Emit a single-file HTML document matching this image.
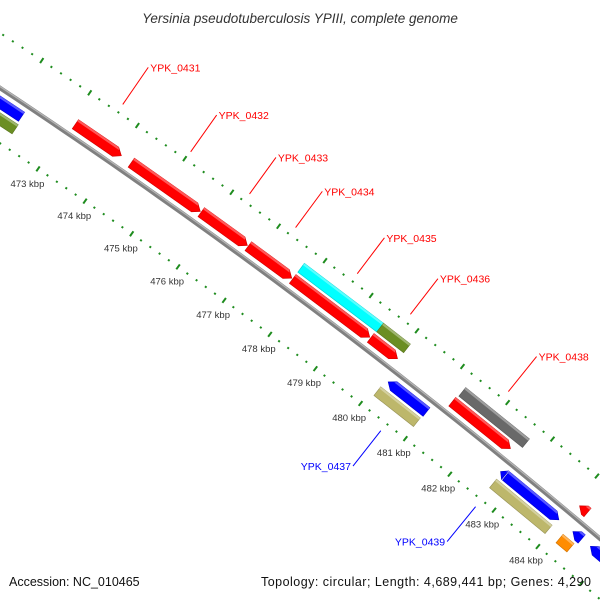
<!DOCTYPE html>
<html><head><meta charset="utf-8"><style>
html,body{margin:0;padding:0;background:#fff;overflow:hidden;}
svg{display:block;}
text{font-family:"Liberation Sans","DejaVu Sans",sans-serif;}
</style></head><body>
<svg id="map" width="600" height="600" viewBox="0 0 600 600" xmlns="http://www.w3.org/2000/svg">
<rect x="0" y="0" width="600" height="600" fill="#fff"/>
<g id="ticks"></g>
<g id="backbone"></g>
<g id="features"></g>
<g id="labels"></g>
<text x="300" y="23" text-anchor="middle" font-size="13.5" font-style="italic" fill="#333">Yersinia pseudotuberculosis YPIII, complete genome</text>
<text x="9" y="586" font-size="12.5" fill="#111">Accession: NC_010465</text>
<text x="591" y="586" text-anchor="end" font-size="12.5" fill="#111" textLength="330">Topology: circular; Length: 4,689,441 bp; Genes: 4,290</text>
</svg>
<script>
// data arrays (kbp)
const featStart = [471.0, 471.0, 473.1, 474.28, 475.77, 476.78, 477.74, 479.44, 477.74, 479.46, 480.15, 480.1, 481.27, 481.24, 482.66, 482.78, 482.69, 484.1, 484.3, 484.2, 484.7];
const featEnd   = [472.25, 472.28, 474.07, 475.75, 476.76, 477.72, 479.42, 480.03, 479.46, 480.05, 481.0, 480.98, 482.69, 482.54, 482.76, 483.98, 483.95, 484.28, 484.5, 484.45, 485.6];
const featSlot  = [-1, -2, 1, 1, 1, 1, 1, 1, 2, 2, -1, -2, 2, 1, -1, -1, -2, 1, -1, -2, -1];
const featDir   = [-1, 0, 1, 1, 1, 1, 1, 1, 0, 0, -1, 0, 0, 1, -1, 1, 0, -1, -1, 0, -1];
const featColor = ["#0000ff","#6b8e23","#ff0000","#ff0000","#ff0000","#ff0000","#ff0000","#ff0000","#00ffff","#6b8e23","#0000ff","#bdb76b","#696969","#ff0000","#0000ff","#0000ff","#bdb76b","#ff0000","#0000ff","#ff8c00","#0000ff"];
const labelNames = ["YPK_0431","YPK_0432","YPK_0433","YPK_0434","YPK_0435","YPK_0436","YPK_0437","YPK_0438","YPK_0439"];
const labelFeat  = [2, 3, 4, 5, 6, 7, 10, 13, 14];
const tickKbp = [470,471,472,473,474,475,476,477,478,479,480,481,482,483,484,485,486];
const tickLabelKbp = [473,474,475,476,477,478,479,480,481,482,483,484];

// geometry
const R = 6300, PHI0 = 33.5*Math.PI/180, K0 = 471.66, PX = 57.4;
const CX = -R*Math.sin(PHI0), CY = 88 + R*Math.cos(PHI0);
function pt(k, r){ const phi = PHI0 + (k-K0)*PX/R; return [CX+(R+r)*Math.sin(phi), CY-(R+r)*Math.cos(phi)]; }
function P(a){ return a.map(p=>p[0].toFixed(2)+','+p[1].toFixed(2)).join(' '); }
const NS="http://www.w3.org/2000/svg";
function mk(tag, attrs, parent){ const e=document.createElementNS(NS,tag); for(const k in attrs) e.setAttribute(k, attrs[k]); parent.appendChild(e); return e; }
function lighten(c,f){ const n=parseInt(c.slice(1),16); let r=n>>16,g=(n>>8)&255,b=n&255; r=Math.round(r+(255-r)*f);g=Math.round(g+(255-g)*f);b=Math.round(b+(255-b)*f); return `rgb(${r},${g},${b})`; }
function darken(c,f){ const n=parseInt(c.slice(1),16); return `rgb(${Math.round((n>>16)*f)},${Math.round(((n>>8)&255)*f)},${Math.round((n&255)*f)})`; }

// ticks
const tg=document.getElementById('ticks');
for(let i=tickKbp[0]*5;i<=tickKbp[tickKbp.length-1]*5;i++){
  const k=i/5, major=(i%5===0);
  for(const ring of [46,-46]){
    const a=pt(k, ring-(major?3:1)), b=pt(k, ring+(major?3:1));
    const l=mk('line',{x1:a[0],y1:a[1],x2:b[0],y2:b[1],stroke:'#1e8c1e','stroke-width':2},tg);
    
    
  }
}
tickLabelKbp.forEach(k=>{
  const p=pt(k,-63);
  const t=mk('text',{x:p[0]-1,y:p[1]+4,'text-anchor':'middle','font-size':'9.5',fill:'#333'},tg);
  t.textContent=k+' kbp';
  
  
});

// backbone
const bg=document.getElementById('backbone');
let pts=[],pts2=[];
for(let k=469;k<=487;k+=0.25){pts.push(pt(k,0));pts2.push(pt(k,1.2));}
const bl=mk('polyline',{points:P(pts),fill:'none',stroke:'#808080','stroke-width':4.5},bg);


const bh=mk('polyline',{points:P(pts2),fill:'none',stroke:'#b4b4b4','stroke-width':1.3},bg);



// features
const fg=document.getElementById('features');
const slotR={1:12,2:26,'-1':-12,'-2':-26};
const H=5.5, HEAD=7/PX;
for(let i=0;i<featStart.length;i++){
  const k0=featStart[i],k1=featEnd[i],r=slotR[featSlot[i]],d=featDir[i],c=featColor[i];
  const hk=Math.min(HEAD,k1-k0);
  let poly,hl;
  if(d===1){
    poly=[pt(k0,r-H),pt(k1-hk,r-H),pt(k1,r),pt(k1-hk,r+H),pt(k0,r+H)];
    hl=[pt(k0,r+H),pt(k1-hk,r+H),pt(k1-hk*0.75,r+H-2.2),pt(k0,r+H-2.2)];
  } else if(d===-1){
    poly=[pt(k1,r-H),pt(k0+hk,r-H),pt(k0,r),pt(k0+hk,r+H),pt(k1,r+H)];
    hl=[pt(k1,r+H),pt(k0+hk,r+H),pt(k0+hk*0.75,r+H-2.2),pt(k1,r+H-2.2)];
  } else {
    poly=[pt(k0,r-H),pt(k1,r-H),pt(k1,r+H),pt(k0,r+H)];
    hl=[pt(k0,r+H),pt(k1,r+H),pt(k1,r+H-2.2),pt(k0,r+H-2.2)];
  }
  const g=mk('g',{},fg);
  
  
  const m=mk('polygon',{points:P(poly),fill:c,stroke:darken(c,0.8),'stroke-width':0.6},g);
  
  
  const h=mk('polygon',{points:P(hl),fill:lighten(c,0.35)},g);
  
  
}

// labels
const lg=document.getElementById('labels');
labelNames.forEach((name,j)=>{
  const i=labelFeat[j], km=(featStart[i]+featEnd[i])/2, inner=featSlot[i]<0;
  const col=featColor[i]==='#0000ff'?'#0000ff':'#ff0000';
  const s=inner?-1:1;
  const a=pt(km,s*55), b=pt(km,s*100);
  const l=mk('line',{x1:a[0],y1:a[1],x2:b[0],y2:b[1],stroke:col,'stroke-width':1},lg);
  
  
  const t=mk('text',{x:b[0]+(inner?-2:2),y:b[1]+4,'text-anchor':inner?'end':'start','font-size':'10.5',fill:col},lg);
  t.textContent=name;
  
  
});
</script>
</body></html>
